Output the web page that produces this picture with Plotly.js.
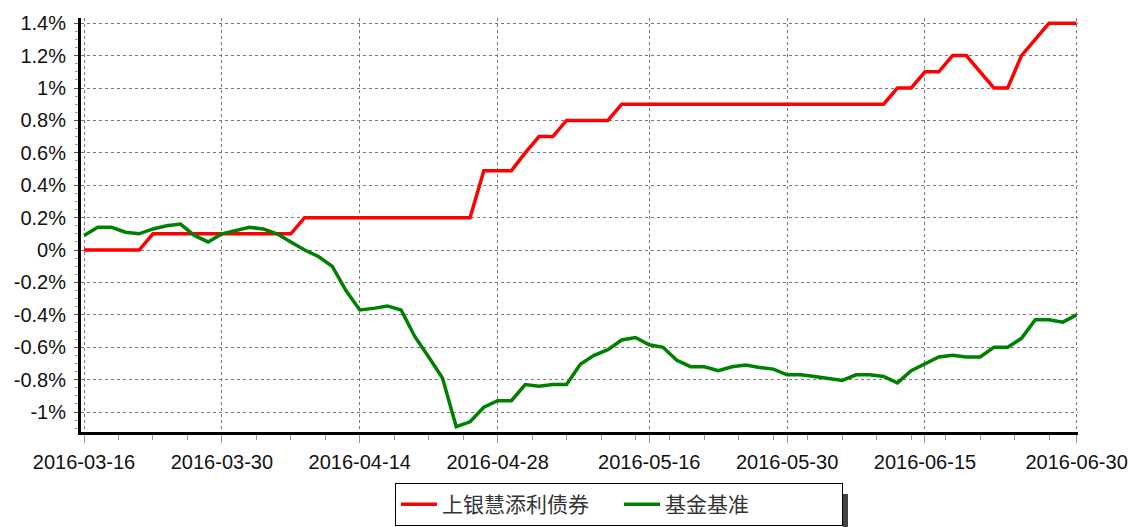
<!DOCTYPE html>
<html>
<head>
<meta charset="utf-8">
<script src="https://cdn.plot.ly/plotly-3.0.1.min.js"></script>
<style>
  html, body { margin: 0; padding: 0; background: #fff; }
  #chart { width: 1133px; height: 527px; }
</style>
</head>
<body>
<div id="chart"></div>
<script>
// Trading days (categories)
const dates = [
  "2016-03-16","2016-03-17","2016-03-18","2016-03-21","2016-03-22","2016-03-23","2016-03-24","2016-03-25","2016-03-28","2016-03-29","2016-03-30","2016-03-31",
  "2016-04-01","2016-04-05","2016-04-06","2016-04-07","2016-04-08","2016-04-11","2016-04-12","2016-04-13","2016-04-14","2016-04-15","2016-04-18","2016-04-19","2016-04-20","2016-04-21","2016-04-22","2016-04-25","2016-04-26","2016-04-27","2016-04-28","2016-04-29",
  "2016-05-03","2016-05-04","2016-05-05","2016-05-06","2016-05-09","2016-05-10","2016-05-11","2016-05-12","2016-05-13","2016-05-16","2016-05-17","2016-05-18","2016-05-19","2016-05-20","2016-05-23","2016-05-24","2016-05-25","2016-05-26","2016-05-27","2016-05-30","2016-05-31",
  "2016-06-01","2016-06-02","2016-06-03","2016-06-06","2016-06-07","2016-06-08","2016-06-13","2016-06-14","2016-06-15","2016-06-16","2016-06-17","2016-06-20","2016-06-21","2016-06-22","2016-06-23","2016-06-24","2016-06-27","2016-06-28","2016-06-29","2016-06-30"
];

// 上银慧添利债券 cumulative return (%)
const fundReturn = [
  0, 0, 0, 0, 0,
  0.1, 0.1, 0.1, 0.1, 0.1, 0.1, 0.1, 0.1, 0.1, 0.1, 0.1,
  0.2, 0.2, 0.2, 0.2, 0.2, 0.2, 0.2, 0.2, 0.2, 0.2, 0.2, 0.2, 0.2,
  0.49, 0.49, 0.49,
  0.6,
  0.7, 0.7,
  0.8, 0.8, 0.8, 0.8,
  0.9, 0.9, 0.9, 0.9, 0.9, 0.9, 0.9, 0.9, 0.9, 0.9, 0.9, 0.9, 0.9, 0.9, 0.9, 0.9, 0.9, 0.9, 0.9, 0.9,
  1.0, 1.0,
  1.1, 1.1,
  1.2, 1.2,
  1.1,
  1.0, 1.0,
  1.2,
  1.3,
  1.4, 1.4, 1.4
];

// 基金基准 cumulative return (%)
const benchReturn = [
  0.09, 0.14, 0.14, 0.11, 0.10, 0.13, 0.15, 0.16, 0.09, 0.05,
  0.10, 0.12, 0.14, 0.13, 0.10, 0.05, 0.00, -0.04, -0.10, -0.25,
  -0.37, -0.36, -0.345, -0.37, -0.535, -0.66, -0.79, -1.09, -1.06, -0.97,
  -0.93, -0.93, -0.83, -0.84, -0.83, -0.83, -0.705, -0.65, -0.615, -0.555,
  -0.54, -0.585, -0.60, -0.68, -0.72, -0.72, -0.745, -0.72, -0.71, -0.725,
  -0.735, -0.77, -0.77, -0.78, -0.79, -0.805, -0.77, -0.77, -0.78, -0.82,
  -0.745, -0.705, -0.66, -0.65, -0.66, -0.66, -0.60, -0.60, -0.545, -0.43,
  -0.43, -0.445, -0.40
];

const seriesNames = ["上银慧添利债券", "基金基准"];
const xTickLabels = ["2016-03-16","2016-03-30","2016-04-14","2016-04-28","2016-05-16","2016-05-30","2016-06-15","2016-06-30"];
const yTickValues = [1.4, 1.2, 1, 0.8, 0.6, 0.4, 0.2, 0, -0.2, -0.4, -0.6, -0.8, -1];
const yTickLabels = ["1.4%","1.2%","1%","0.8%","0.6%","0.4%","0.2%","0%","-0.2%","-0.4%","-0.6%","-0.8%","-1%"];

const xIndex = dates.map((d, i) => i);

const traces = [
  {
    x: xIndex, y: fundReturn, text: dates, name: seriesNames[0],
    type: "scatter", mode: "lines",
    line: { color: "#ff0000", width: 3.5 },
    hovertemplate: "%{text}: %{y}%<extra></extra>"
  },
  {
    x: xIndex, y: benchReturn, text: dates, name: seriesNames[1],
    type: "scatter", mode: "lines",
    line: { color: "#008000", width: 3.5 },
    hovertemplate: "%{text}: %{y}%<extra></extra>"
  }
];

const tickFont = { family: "Liberation Sans, Arial, sans-serif", size: 20, color: "#111" };

const layout = {
  width: 1133, height: 527,
  margin: { l: 81, r: 55, t: 18, b: 95, autoexpand: false },
  paper_bgcolor: "#ffffff", plot_bgcolor: "#ffffff",
  showlegend: true,
  xaxis: {
    type: "linear",
    range: [-0.22, 72.1],
    tickvals: xTickLabels.map(d => dates.indexOf(d)),
    ticktext: xTickLabels,
    showgrid: true, gridcolor: "#7a7a7a", griddash: "dot", gridwidth: 1,
    zeroline: false,
    showline: true, linecolor: "#000", linewidth: 3,
    ticks: "outside", ticklen: 8, tickcolor: "#999", tickwidth: 1,
    minor: { dtick: 2.5, tick0: 0, ticks: "outside", ticklen: 5, tickcolor: "#999", tickwidth: 1, showgrid: false },
    tickfont: tickFont,
    ticklabelstandoff: 2
  },
  yaxis: {
    range: [-1.123, 1.432],
    tickvals: yTickValues,
    ticktext: yTickLabels,
    showgrid: true, gridcolor: "#7a7a7a", griddash: "dot", gridwidth: 1,
    zeroline: false,
    showline: true, linecolor: "#000", linewidth: 3,
    ticks: "outside", ticklen: 4, tickcolor: "#555", tickwidth: 1,
    minor: { dtick: 0.05, tick0: 0, ticks: "outside", ticklen: 3, tickcolor: "#999", tickwidth: 1, showgrid: false },
    tickfont: tickFont,
    ticklabelstandoff: 4
  },
  legend: {
    orientation: "h",
    x: (619 - 81) / 997, xanchor: "center",
    y: (432 - 483) / 414, yanchor: "top",
    bordercolor: "#000", borderwidth: 1,
    bgcolor: "#fff",
    font: { family: "Noto Sans CJK SC, sans-serif", size: 21, color: "#333" },
    itemwidth: 36,
    entrywidth: 172
  },
  shapes: [
    {
      type: "rect", xref: "paper", yref: "paper",
      x0: (843 - 81) / 997, x1: (848 - 81) / 997,
      y0: (432 - 527) / 414, y1: (432 - 494) / 414,
      fillcolor: "#444", line: { width: 0 }
    }
  ]
};

Plotly.newPlot("chart", traces, layout, { staticPlot: true, displayModeBar: false });
</script>
</body>
</html>
